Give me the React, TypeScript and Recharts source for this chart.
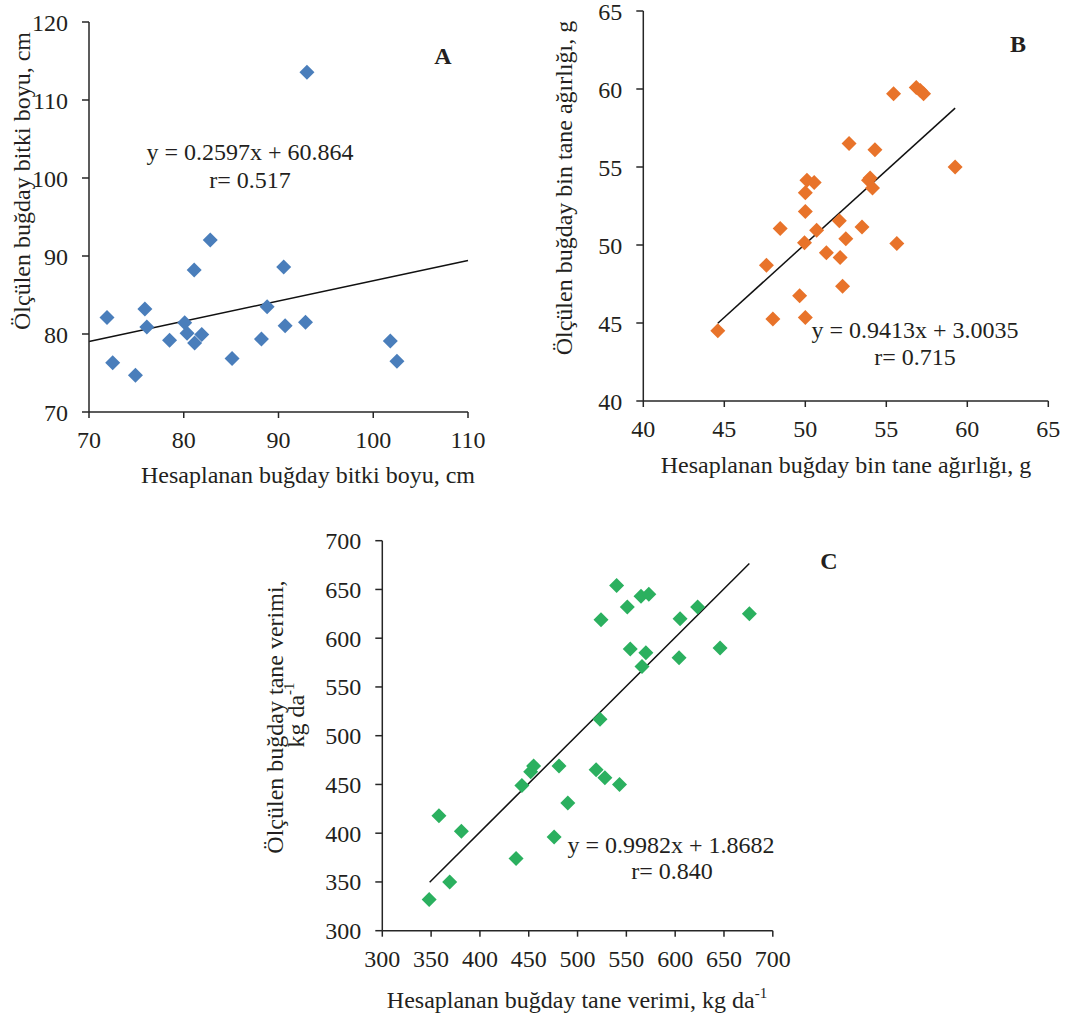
import React from "react";
import {
  ScatterChart,
  Scatter,
  XAxis,
  YAxis,
  ReferenceLine,
} from "recharts";

// A: bitki boyu (cm)
const A_CALC = [71.9, 72.5, 74.9, 75.9, 76.1, 78.5, 80.1, 80.35, 81.15, 81.1, 81.9, 82.8, 85.1, 88.2, 88.8, 90.55, 90.7, 92.85, 93.0, 101.8, 102.5];
const A_MEAS = [82.1, 76.3, 74.7, 83.2, 80.9, 79.2, 81.45, 80.1, 78.85, 88.2, 79.95, 92.05, 76.85, 79.35, 83.5, 88.6, 81.05, 81.5, 113.55, 79.1, 76.5];
const A_TICKS_X = [70, 80, 90, 100, 110];
const A_TICKS_Y = [70, 80, 90, 100, 110, 120];

// B: bin tane ağırlığı (g)
const B_CALC = [44.6, 48.0, 47.6, 48.45, 49.65, 50.0, 49.95, 50.0, 50.0, 50.1, 50.55, 50.7, 51.3, 52.1, 52.15, 52.3, 52.5, 52.7, 53.5, 53.9, 54.0, 54.15, 54.3, 55.45, 55.65, 56.85, 57.1, 57.3, 59.25];
const B_MEAS = [44.5, 45.25, 48.7, 51.05, 46.75, 45.35, 50.15, 52.15, 53.35, 54.15, 54.0, 50.95, 49.5, 51.55, 49.2, 47.35, 50.4, 56.5, 51.15, 54.15, 54.3, 53.65, 56.1, 59.7, 50.1, 60.1, 59.9, 59.7, 55.0];
const B_TICKS = [40, 45, 50, 55, 60, 65];

// C: tane verimi (kg da-1)
const C_CALC = [348, 358, 369, 381, 437, 443, 452, 455, 476, 481, 490, 519, 523, 524, 528, 540, 543, 551, 554, 565, 566, 570, 573, 604, 605, 623, 646, 676];
const C_MEAS = [332, 418, 350, 402, 374, 449, 463, 469, 396, 469, 431, 465, 517, 619, 457, 654, 450, 632, 589, 643, 571, 585, 645, 580, 620, 632, 590, 625];
const C_TICKS = [300, 350, 400, 450, 500, 550, 600, 650, 700];

// trend lines (slope, intercept, x range)
const A_FIT = { m: 0.2597, b: 60.864, x0: 70, x1: 110 };
const B_FIT = { m: 0.9413, b: 3.0035, x0: 44.6, x1: 59.25 };
const C_FIT = { m: 0.9982, b: 1.8682, x0: 348.5, x1: 676 };

const FONT = "'Liberation Serif', 'Times New Roman', serif";
const FS = 24;
const INK = "#231f20";
const AXIS = "#262626";

const toPoints = (xs: number[], ys: number[]) => xs.map((x, i) => ({ x, y: ys[i] }));
const fitSegment = (f: { m: number; b: number; x0: number; x1: number }) => [
  { x: f.x0, y: f.m * f.x0 + f.b },
  { x: f.x1, y: f.m * f.x1 + f.b },
];

const makeDiamond = (color: string) => (props: any) => {
  const { cx, cy } = props;
  const r = 7.5;
  return (
    <path
      d={`M${cx},${cy - r}L${cx + r},${cy}L${cx},${cy + r}L${cx - r},${cy}Z`}
      fill={color}
    />
  );
};

const tickStyle = { fill: INK, fontSize: FS, fontFamily: FONT };

interface PanelProps {
  left: number;
  top: number;
  width: number;
  height: number;
  margin: { top: number; right: number; bottom: number; left: number };
  data: { x: number; y: number }[];
  xDomain: [number, number];
  yDomain: [number, number];
  xTicks: number[];
  yTicks: number[];
  color: string;
  fit: { m: number; b: number; x0: number; x1: number };
}

function Panel(p: PanelProps) {
  return (
    <div style={{ position: "absolute", left: p.left, top: p.top }}>
      <ScatterChart width={p.width} height={p.height} margin={p.margin}>
        <XAxis
          type="number"
          dataKey="x"
          domain={p.xDomain}
          ticks={p.xTicks}
          interval={0}
          allowDataOverflow
          height={40}
          tickSize={6}
          tickMargin={13}
          tick={tickStyle}
          axisLine={{ stroke: AXIS, strokeWidth: 1.5 }}
          tickLine={{ stroke: AXIS, strokeWidth: 1.5 }}
        />
        <YAxis
          type="number"
          dataKey="y"
          domain={p.yDomain}
          ticks={p.yTicks}
          interval={0}
          allowDataOverflow
          width={60}
          tickSize={7}
          tickMargin={0}
          tick={{ ...tickStyle, dx: -14 }}
          axisLine={{ stroke: AXIS, strokeWidth: 1.5 }}
          tickLine={{ stroke: AXIS, strokeWidth: 1.5 }}
        />
        <ReferenceLine
          segment={fitSegment(p.fit)}
          stroke="#111"
          strokeWidth={1.5}
          ifOverflow="visible"
        />
        <Scatter
          data={p.data}
          fill={p.color}
          shape={makeDiamond(p.color)}
          isAnimationActive={false}
        />
      </ScatterChart>
    </div>
  );
}

export default function App() {
  const t = { fontFamily: FONT, fontSize: FS, fill: INK };
  return (
    <div
      style={{
        position: "absolute",
        left: 0,
        top: 0,
        width: 1066,
        height: 1021,
        background: "#fff",
        overflow: "hidden",
      }}
    >
      <Panel
        left={0}
        top={0}
        width={500}
        height={500}
        margin={{ top: 22, right: 32, bottom: 48, left: 29 }}
        data={toPoints(A_CALC, A_MEAS)}
        xDomain={[70, 110]}
        yDomain={[70, 120]}
        xTicks={A_TICKS_X}
        yTicks={A_TICKS_Y}
        color="#4a7ebb"
        fit={A_FIT}
      />
      <Panel
        left={540}
        top={0}
        width={526}
        height={500}
        margin={{ top: 11, right: 17.7, bottom: 59, left: 43.3 }}
        data={toPoints(B_CALC, B_MEAS)}
        xDomain={[40, 65]}
        yDomain={[40, 65]}
        xTicks={B_TICKS}
        yTicks={B_TICKS}
        color="#e8732a"
        fit={B_FIT}
      />
      <Panel
        left={250}
        top={520}
        width={560}
        height={500}
        margin={{ top: 20.7, right: 37.2, bottom: 49.3, left: 72.3 }}
        data={toPoints(C_CALC, C_MEAS)}
        xDomain={[300, 700]}
        yDomain={[300, 700]}
        xTicks={C_TICKS}
        yTicks={C_TICKS}
        color="#2bb05f"
        fit={C_FIT}
      />
      <svg
        width={1066}
        height={1021}
        style={{ position: "absolute", left: 0, top: 0, pointerEvents: "none" }}
      >
        {/* A */}
        <text x={443} y={64} textAnchor="middle" {...t} fontWeight="bold">A</text>
        <text x={250} y={160} textAnchor="middle" {...t}>y = 0.2597x + 60.864</text>
        <text x={250} y={188} textAnchor="middle" {...t}>r= 0.517</text>
        <text x={308} y={483} textAnchor="middle" {...t}>Hesaplanan buğday bitki boyu, cm</text>
        <text x={30} y={181} textAnchor="middle" {...t} transform="rotate(-90 30 181)">
          Ölçülen buğday bitki boyu, cm
        </text>

        {/* B */}
        <text x={1018} y={52} textAnchor="middle" {...t} fontWeight="bold">B</text>
        <text x={915} y={338} textAnchor="middle" {...t}>y = 0.9413x + 3.0035</text>
        <text x={915} y={365} textAnchor="middle" {...t}>r= 0.715</text>
        <text x={846} y={473} textAnchor="middle" {...t}>Hesaplanan buğday bin tane ağırlığı, g</text>
        <text x={572} y={188} textAnchor="middle" {...t} transform="rotate(-90 572 188)">
          Ölçülen buğday bin tane ağırlığı, g
        </text>

        {/* C */}
        <text x={829} y={569} textAnchor="middle" {...t} fontWeight="bold">C</text>
        <text x={671} y={853} textAnchor="middle" {...t}>y = 0.9982x + 1.8682</text>
        <text x={672} y={879} textAnchor="middle" {...t}>r= 0.840</text>
        <text x={577} y={1008} textAnchor="middle" {...t}>
          Hesaplanan buğday tane verimi, kg da
          <tspan fontSize={15} dy={-10}>-1</tspan>
        </text>
        <text x={283} y={717} textAnchor="middle" {...t} transform="rotate(-90 283 717)">
          Ölçülen buğday tane verimi,
        </text>
        <text x={304} y={715} textAnchor="middle" {...t} transform="rotate(-90 304 715)">
          kg da
          <tspan fontSize={15} dy={-10}>-1</tspan>
        </text>
      </svg>
    </div>
  );
}
